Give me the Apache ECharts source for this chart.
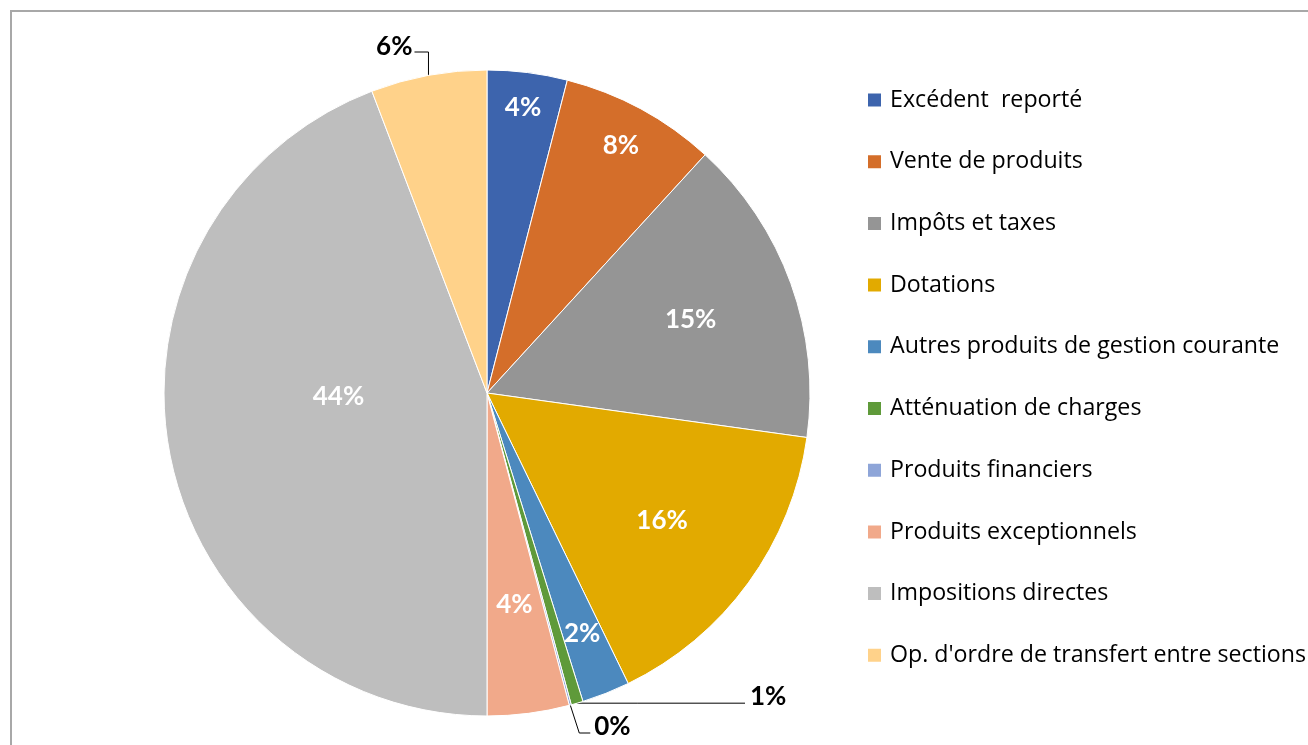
<!DOCTYPE html>
<html>
<head>
<meta charset="utf-8">
<script src="https://cdn.jsdelivr.net/npm/echarts@6/dist/echarts.min.js"></script>
<style>
html, body { margin: 0; padding: 0; background: #fff; }
#chart { width: 1308px; height: 745px; }
</style>
</head>
<body>
<div id="chart"></div>
<script>
// catégories et parts (en %)
var categories = [
	"Excédent  reporté",
	"Vente de produits",
	"Impôts et taxes",
	"Dotations",
	"Autres produits de gestion courante",
	"Atténuation de charges",
	"Produits financiers",
	"Produits exceptionnels",
	"Impositions directes",
	"Op. d'ordre de transfert entre sections"
];
var values = [4.0, 7.8, 15.4, 15.6, 2.4, 0.6, 0.1, 4.1, 44.2, 5.8];
var colors = ["#3d64ad", "#d46e2a", "#959595", "#e2aa00", "#4c89be", "#5f9a3a", "#8ea5d8", "#f1a98a", "#bebebe", "#ffd28a"];

// placement des étiquettes (fraction du rayon, décalage angulaire en degrés)
var labelRadius = [0.89, 0.87, 0.67, 0.67, 0.8, 0, 0, 0.66, 0.46, 0];
var labelNudge = [0, 0, 0, 0, 0, 0, 0, 0, 9, 0];

var cx = 487, cy = 393, R = 323;

var total = values.reduce(function (a, b) { return a + b; }, 0);
var starts = [];
var acc = 0;
values.forEach(function (v) { starts.push(acc); acc += v; });

function polar(deg, r) {
	var a = deg * Math.PI / 180;
	return [cx + r * Math.sin(a), cy - r * Math.cos(a)];
}

var labelFont = { fontFamily: "Lato", fontWeight: "bold", fontSize: 26 };

var myChart = echarts.init(document.getElementById("chart"));
var option = {
	animation: false,
	color: colors,
	graphic: [{
		type: "rect",
		silent: true,
		shape: { x: 11, y: 11, width: 1400, height: 800 },
		style: { fill: "none", stroke: "#a8a8a8", lineWidth: 2 }
	}],
	legend: {
		orient: "vertical",
		left: 866,
		top: 88.5,
		padding: 0,
		itemWidth: 15,
		itemHeight: 15,
		itemGap: 38.7,
		icon: "rect",
		textStyle: {
			fontFamily: "Open Sans",
			fontSize: 23.2,
			lineHeight: 23,
			color: "#000",
			padding: [0, 0, 0, 3]
		},
		data: categories
	},
	series: [{
		type: "pie",
		center: [cx, cy],
		radius: [0, R],
		startAngle: 90,
		avoidLabelOverlap: false,
		itemStyle: { borderColor: "#fff", borderWidth: 1 },
		label: Object.assign({
			show: true,
			position: "inside",
			color: "#fff",
			formatter: function (p) { return Math.round(p.percent) + "%"; }
		}, labelFont),
		labelLine: { show: false },
		labelLayout: function (p) {
			var i = p.dataIndex;
			var mid = (starts[i] + values[i] / 2) / total * 360;
			var a;
			if (i === 9) {
				a = polar(mid, R);
				return {
					x: a[0] - 16, y: cy - 346, align: "right", verticalAlign: "middle",
					labelLinePoints: [a, [a[0], cy - 341], [a[0] - 14, cy - 341]]
				};
			}
			if (i === 5) {
				a = polar(mid, R);
				return {
					x: 750, y: a[1] - 7, align: "left", verticalAlign: "middle",
					labelLinePoints: [a, [a[0] + 60, a[1]], [745, a[1]]]
				};
			}
			if (i === 6) {
				a = polar(mid, R);
				return {
					x: a[0] + 24, y: cy + 334, align: "left", verticalAlign: "middle",
					labelLinePoints: [a, [a[0] + 9, cy + 340], [a[0] + 20, cy + 340]]
				};
			}
			a = polar(mid + labelNudge[i], R * labelRadius[i]);
			return { x: a[0], y: a[1], align: "center", verticalAlign: "middle" };
		},
		data: categories.map(function (name, i) {
			var item = { name: name, value: values[i] };
			if (i === 5 || i === 6 || i === 9) {
				item.label = { position: "outside", color: "#000" };
				item.labelLine = { show: true, lineStyle: { color: "#000", width: 1 } };
			}
			return item;
		})
	}]
};
myChart.setOption(option);
</script>
</body>
</html>
